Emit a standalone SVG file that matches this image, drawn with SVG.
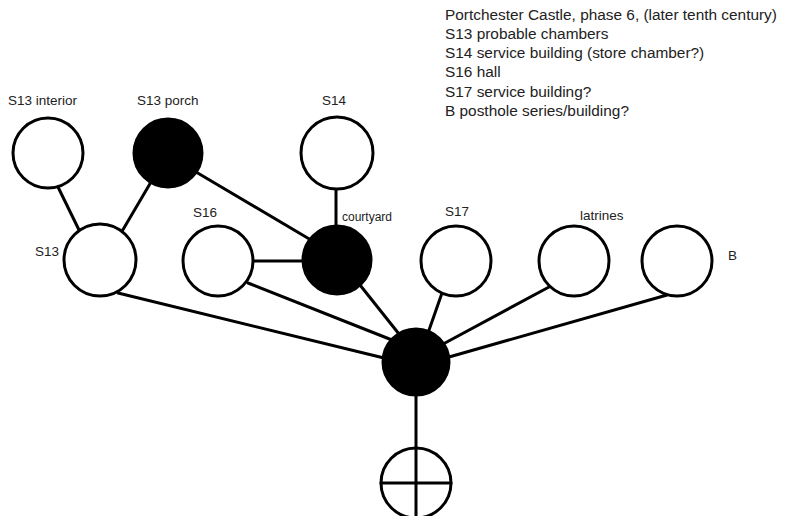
<svg xmlns="http://www.w3.org/2000/svg" width="794" height="516" viewBox="0 0 794 516">
  <style>
    .node { stroke: #000; stroke-width: 3; }
    .open { fill: #fff; }
    .solid { fill: #000; }
    .edge { stroke: #000; stroke-width: 3; fill: none; stroke-linecap: round; }
    text { font-family: "Liberation Sans", Arial, sans-serif; fill: #222; }
    .lbl { font-size: 13.5px; }
    .small { font-size: 12px; }
    .key { font-size: 15.4px; }
  </style>
  <rect width="794" height="516" fill="#fff"/>

  <!-- connectors -->
  <g id="edges">
    <line class="edge" x1="58" y1="187" x2="80" y2="232"/>
    <line class="edge" x1="151" y1="182" x2="121" y2="233"/>
    <line class="edge" x1="196" y1="172" x2="311" y2="240"/>
    <line class="edge" x1="336" y1="188" x2="336" y2="227"/>
    <line class="edge" x1="252" y1="261" x2="304" y2="261"/>
    <line class="edge" x1="248" y1="283" x2="392" y2="340"/>
    <line class="edge" x1="118" y1="293" x2="384" y2="358"/>
    <line class="edge" x1="360" y1="285" x2="399" y2="334"/>
    <line class="edge" x1="442" y1="293" x2="428" y2="333"/>
    <line class="edge" x1="549" y1="287" x2="445" y2="343"/>
    <line class="edge" x1="667" y1="295" x2="449" y2="357"/>
    <line class="edge" x1="416" y1="394" x2="416" y2="448"/>
  </g>

  <!-- nodes -->
  <g id="s13-interior">
    <circle class="node open" cx="48" cy="153" r="35"/>
    <text class="lbl" x="8" y="105">S13 interior</text>
  </g>
  <g id="s13-porch">
    <circle class="node solid" cx="168" cy="153" r="34"/>
    <text class="lbl" x="137" y="105">S13 porch</text>
  </g>
  <g id="s14">
    <circle class="node open" cx="337" cy="153" r="36"/>
    <text class="lbl" x="322" y="105">S14</text>
  </g>
  <g id="s13">
    <circle class="node open" cx="100" cy="260" r="36"/>
    <text class="lbl" x="35" y="256">S13</text>
  </g>
  <g id="s16">
    <circle class="node open" cx="218" cy="261" r="35"/>
    <text class="lbl" x="193" y="217">S16</text>
  </g>
  <g id="courtyard">
    <circle class="node solid" cx="337" cy="260" r="34"/>
    <text class="small" x="342" y="221">courtyard</text>
  </g>
  <g id="s17">
    <circle class="node open" cx="456" cy="261" r="35"/>
    <text class="lbl" x="445" y="216">S17</text>
  </g>
  <g id="latrines">
    <circle class="node open" cx="574" cy="261" r="35"/>
    <text class="lbl" x="580" y="220">latrines</text>
  </g>
  <g id="b">
    <circle class="node open" cx="677" cy="261" r="35"/>
    <text class="lbl" x="728" y="260">B</text>
  </g>
  <g id="hub">
    <circle class="node solid" cx="416" cy="362" r="33"/>
  </g>
  <g id="root">
    <circle class="node open" cx="416" cy="483" r="35"/>
    <line class="edge" x1="381" y1="483" x2="451" y2="483"/>
    <line class="edge" x1="416" y1="448" x2="416" y2="518"/>
  </g>

  <!-- key -->
  <g id="key">
    <text class="key" x="445" y="20">Portchester Castle, phase 6, (later tenth century)</text>
    <text class="key" x="445" y="39">S13 probable chambers</text>
    <text class="key" x="445" y="58">S14 service building (store chamber?)</text>
    <text class="key" x="445" y="77">S16 hall</text>
    <text class="key" x="445" y="97">S17 service building?</text>
    <text class="key" x="445" y="116">B posthole series/building?</text>
  </g>
</svg>
